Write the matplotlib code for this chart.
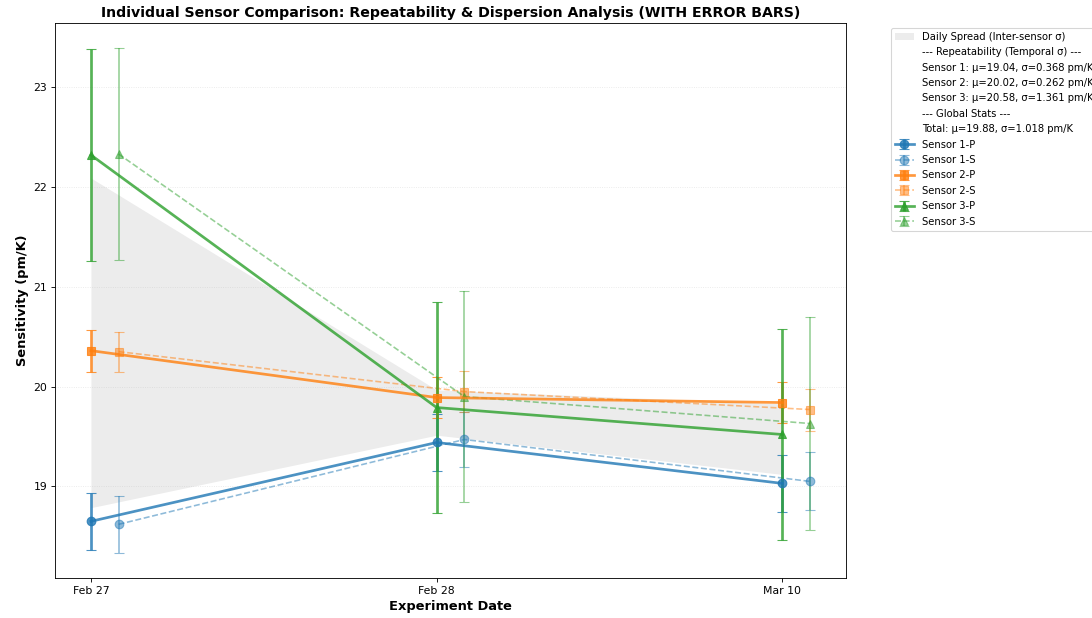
import numpy as np
import matplotlib
matplotlib.use('Agg')
from matplotlib import pyplot as plt
from matplotlib.patches import Patch
from matplotlib.lines import Line2D


# experiment days and readings (pm/K)
dates = ['Feb 27', 'Feb 28', 'Mar 10']

s1_p = [18.65, 19.44, 19.03]
s1_p_err = [0.285, 0.29, 0.285]
s1_s = [18.62, 19.47, 19.05]
s1_s_err = [0.285, 0.28, 0.29]

s2_p = [20.36, 19.89, 19.84]
s2_p_err = [0.21, 0.205, 0.205]
s2_s = [20.35, 19.95, 19.77]
s2_s_err = [0.20, 0.205, 0.21]

s3_p = [22.32, 19.79, 19.52]
s3_p_err = [1.06, 1.06, 1.06]
s3_s = [22.33, 19.90, 19.63]
s3_s_err = [1.06, 1.06, 1.065]

stat_lines = [
    '--- Repeatability (Temporal σ) ---',
    'Sensor 1: μ=19.04, σ=0.368 pm/K',
    'Sensor 2: μ=20.02, σ=0.262 pm/K',
    'Sensor 3: μ=20.58, σ=1.361 pm/K',
    '--- Global Stats ---',
    'Total: μ=19.88, σ=1.018 pm/K',
]

sensors = [
    ('Sensor 1', s1_p, s1_p_err, s1_s, s1_s_err, 'tab:blue', 'o'),
    ('Sensor 2', s2_p, s2_p_err, s2_s, s2_s_err, 'tab:orange', 's'),
    ('Sensor 3', s3_p, s3_p_err, s3_s, s3_s_err, 'tab:green', '^'),
]

x = np.arange(len(dates))
offset = 0.08

fig = plt.figure(figsize=(14, 618 / 78), dpi=78)
ax = fig.add_axes([55 / 1092, 1 - 578 / 618, 791 / 1092, 555 / 618])

# daily spread across all six readings of a day
all_vals = np.array([s1_p, s1_s, s2_p, s2_s, s3_p, s3_s])
day_mean = all_vals.mean(axis=0)
day_std = all_vals.std(axis=0, ddof=1)
ax.fill_between(x, day_mean - day_std, day_mean + day_std,
                color='gray', alpha=0.15, linewidth=0, zorder=1)

handles = [Patch(facecolor='gray', alpha=0.15, label='Daily Spread (Inter-sensor σ)')]
for line in stat_lines:
    handles.append(Line2D([], [], linestyle='none', label=line))

for name, p, p_err, s, s_err, color, marker in sensors:
    hp = ax.errorbar(x, p, yerr=p_err, color=color, marker=marker, linestyle='-',
                     linewidth=2.5, markersize=8, capsize=5, alpha=0.8,
                     label=name + '-P', zorder=3)
    hs = ax.errorbar(x + offset, s, yerr=s_err, color=color, marker=marker, linestyle='--',
                     linewidth=1.5, markersize=8, capsize=5, alpha=0.5,
                     label=name + '-S', zorder=2)
    handles.append(hp)
    handles.append(hs)

ax.set_xticks(x)
ax.set_xticklabels(dates, fontsize=10)
ax.tick_params(axis='y', labelsize=10)
ax.grid(True, axis='y', linestyle=':', alpha=0.3)
ax.set_title('Individual Sensor Comparison: Repeatability & Dispersion Analysis (WITH ERROR BARS)',
             fontsize=13, fontweight='bold')
ax.set_xlabel('Experiment Date', fontsize=12, fontweight='bold')
ax.set_ylabel('Sensitivity (pm/K)', fontsize=12, fontweight='bold')
ax.legend(handles=handles, bbox_to_anchor=(1.05, 1), loc='upper left', fontsize=9.2,
          labelspacing=0.54)

fig.savefig('out.png', dpi=78)
